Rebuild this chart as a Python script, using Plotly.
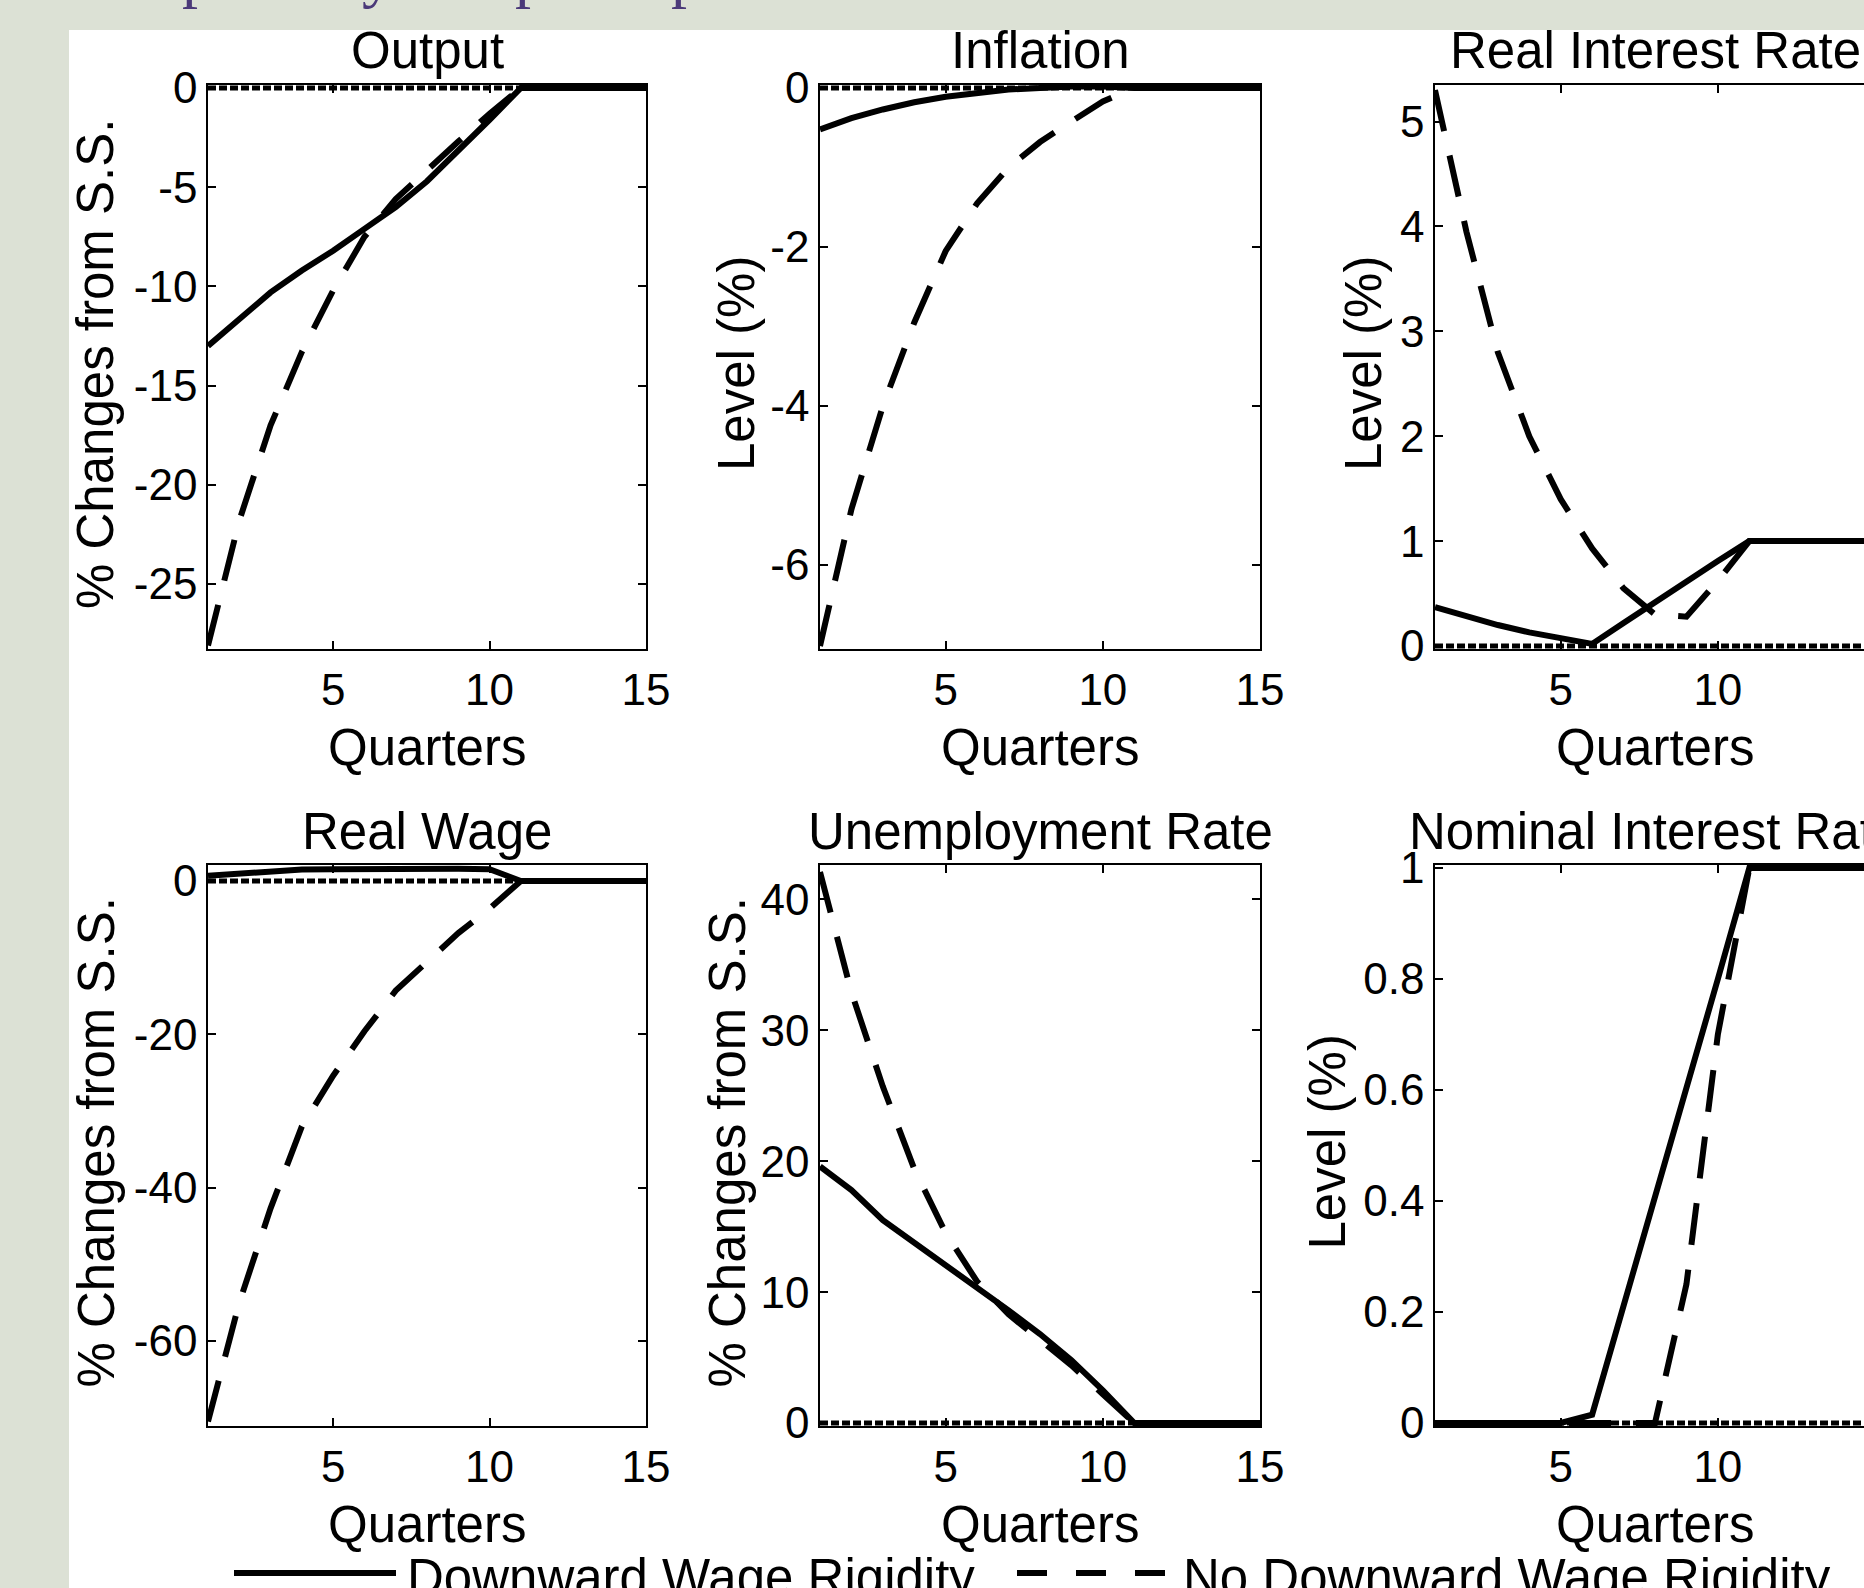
import plotly.graph_objects as go

# ---------------- data ----------------
quarters = list(range(1, 16))

output_dwr = [-13.0, -11.6, -10.3, -9.2, -8.2, -7.1, -6.0, -4.7, -3.2, -1.6, 0, 0, 0, 0, 0]
output_nodwr = [-28.1, -21.8, -17.0, -13.3, -10.2, -7.5, -5.6, -4.1, -2.7, -1.3, 0, 0, 0, 0, 0]

inflation_dwr = [-0.52, -0.38, -0.27, -0.18, -0.11, -0.06, -0.02, 0.0, 0.02, 0.02, 0, 0, 0, 0, 0]
inflation_nodwr = [-7.02, -5.3, -4.0, -2.95, -2.05, -1.45, -1.0, -0.68, -0.42, -0.17, 0, 0, 0, 0, 0]

real_rate_dwr = [0.37, 0.28, 0.2, 0.13, 0.07, 0.02, 0.22, 0.42, 0.61, 0.81, 1.0, 1.0, 1.0, 1.0, 1.0]
real_rate_nodwr = [5.3, 3.95, 2.8, 2.0, 1.4, 0.93, 0.55, 0.3, 0.28, 0.62, 1.0, 1.0, 1.0, 1.0, 1.0]

real_wage_dwr = [0.7, 1.0, 1.3, 1.5, 1.55, 1.6, 1.6, 1.6, 1.6, 1.55, 0, 0, 0, 0, 0]
real_wage_nodwr = [-70.5, -55.0, -42.7, -32.0, -25.4, -19.6, -14.3, -10.5, -6.8, -3.6, 0, 0, 0, 0, 0]

unemp_dwr = [19.6, 17.8, 15.5, 13.8, 12.1, 10.3, 8.6, 6.8, 4.8, 2.5, 0, 0, 0, 0, 0]
unemp_nodwr = [42.1, 32.9, 25.7, 19.4, 14.5, 10.8, 8.3, 6.4, 4.4, 2.2, 0, 0, 0, 0, 0]

nominal_dwr = [0, 0, 0, 0, 0, 0.015, 0.21, 0.41, 0.6, 0.8, 1.0, 1.0, 1.0, 1.0, 1.0]
nominal_nodwr = [0, 0, 0, 0, 0, 0, 0, 0.0, 0.25, 0.7, 1.0, 1.0, 1.0, 1.0, 1.0]

steady_state = [0] * 15

titles = ["Output", "Inflation", "Real Interest Rate",
          "Real Wage", "Unemployment Rate", "Nominal Interest Rate"]
ylabels = ["% Changes from S.S.", "Level (%)", "Level (%)",
           "% Changes from S.S.", "% Changes from S.S.", "Level (%)"]
xlabel = "Quarters"
legend_names = ["Downward Wage Rigidity", "No Downward Wage Rigidity"]

dwr_series = [output_dwr, inflation_dwr, real_rate_dwr, real_wage_dwr, unemp_dwr, nominal_dwr]
nodwr_series = [output_nodwr, inflation_nodwr, real_rate_nodwr, real_wage_nodwr, unemp_nodwr, nominal_nodwr]

y_ranges = [[-28.12, 0], [-7.02, 0], [0, 5.32], [-70.7, 1.7], [0, 42.4], [0, 1]]
y_ticks = [[-25, -20, -15, -10, -5, 0], [-6, -4, -2, 0], [0, 1, 2, 3, 4, 5],
           [-60, -40, -20, 0], [0, 10, 20, 30, 40], [0, 0.2, 0.4, 0.6, 0.8, 1]]
y_ticktext = [["-25", "-20", "-15", "-10", "-5", "0"], ["-6", "-4", "-2", "0"],
              ["0", "1", "2", "3", "4", "5"], ["-60", "-40", "-20", "0"],
              ["0", "10", "20", "30", "40"], ["0", "0.2", "0.4", "0.6", "0.8", "1"]]
x_ticks = [5, 10, 15]

# ---------------- layout geometry (pixels) ----------------
W, H = 1864, 1588
FONT = "Liberation Sans, Arial, sans-serif"
TICK_SIZE = 44
LABEL_SIZE = 51
PAD = 3  # px of breathing room so thick lines on the box edge are not clipped


def fx(p):
    return p / W


def fy(p):
    return 1 - p / H


col_px = [(208, 646), (820, 1260), (1435, 1875)]
row_px = [(88, 646), (868, 1423)]
ylabel_x = [96, 737, 1364, 96, 727, 1327]

fig = go.Figure()
layout_axes = {}
annotations = []

for i in range(6):
    r, c = divmod(i, 3)
    n = i + 1
    xname = "x" if n == 1 else f"x{n}"
    yname = "y" if n == 1 else f"y{n}"
    x0, x1 = col_px[c]
    xend = min(x1, W)
    xmax = 1 + 14 * (xend - x0) / (x1 - x0)
    top, bottom = row_px[r]
    ymin, ymax = y_ranges[i]
    upp = (ymax - ymin) / (bottom - top)
    yrange = [ymin - PAD * upp, ymax + PAD * upp]

    fig.add_trace(go.Scatter(x=quarters, y=steady_state, mode="lines",
                             line=dict(color="black", width=5, dash="8px,3px"),
                             xaxis=xname, yaxis=yname, showlegend=False, hoverinfo="skip"))
    fig.add_trace(go.Scatter(x=quarters, y=nodwr_series[i], mode="lines",
                             name=legend_names[1],
                             line=dict(color="black", width=6, dash="42px,25px"),
                             xaxis=xname, yaxis=yname, showlegend=False))
    fig.add_trace(go.Scatter(x=quarters, y=dwr_series[i], mode="lines",
                             name=legend_names[0],
                             line=dict(color="black", width=6),
                             xaxis=xname, yaxis=yname, showlegend=False))

    common = dict(showline=True, linecolor="black", linewidth=1.5,
                  ticks="inside", ticklen=8, tickwidth=1.5, tickcolor="black",
                  showgrid=False, zeroline=False, automargin=False,
                  tickfont=dict(family=FONT, size=TICK_SIZE, color="black"))
    layout_axes["xaxis" if n == 1 else f"xaxis{n}"] = dict(
        domain=[fx(x0), fx(xend)], anchor=yname, range=[1, xmax],
        tickmode="array", tickvals=x_ticks, ticktext=[str(v) for v in x_ticks],
        mirror="ticks", ticklabelstandoff=1, **common)
    layout_axes["yaxis" if n == 1 else f"yaxis{n}"] = dict(
        domain=[fy(bottom + PAD), fy(top - PAD)], anchor=xname, range=yrange,
        tickmode="array", tickvals=y_ticks[i], ticktext=y_ticktext[i],
        mirror=("ticks" if c < 2 else False),
        ticklabelstandoff=0, **common)

    cx = (x0 + x1) / 2
    annotations.append(dict(text=titles[i], x=fx(cx), y=fy(top - 37), xref="paper", yref="paper",
                            xanchor="center", yanchor="middle", showarrow=False,
                            font=dict(family=FONT, size=LABEL_SIZE, color="black")))
    annotations.append(dict(text=xlabel, x=fx(cx), y=fy(bottom + 101), xref="paper", yref="paper",
                            xanchor="center", yanchor="middle", showarrow=False,
                            font=dict(family=FONT, size=LABEL_SIZE, color="black")))
    annotations.append(dict(text=ylabels[i], x=fx(ylabel_x[i]), y=fy((top + bottom) / 2 - 3),
                            xref="paper", yref="paper", textangle=-90,
                            xanchor="center", yanchor="middle", showarrow=False,
                            font=dict(family=FONT, size=LABEL_SIZE, color="black")))

# legend (drawn manually to match the long MATLAB line samples)
annotations.append(dict(text=legend_names[0], x=fx(405), y=fy(1577), xref="paper", yref="paper",
                        xanchor="left", yanchor="middle", showarrow=False,
                        font=dict(family=FONT, size=LABEL_SIZE, color="black")))
annotations.append(dict(text=legend_names[1], x=fx(1181), y=fy(1577), xref="paper", yref="paper",
                        xanchor="left", yanchor="middle", showarrow=False,
                        font=dict(family=FONT, size=LABEL_SIZE, color="black")))

# cut-off slide title (only descenders visible)
title_glyphs = [("p", 198), ("y", 378), ("p", 531), ("p", 687)]
for g, gx in title_glyphs:
    annotations.append(dict(text=g, x=fx(gx), y=1, xref="paper", yref="paper",
                            xanchor="center", yanchor="bottom", yshift=-11, showarrow=False,
                            font=dict(family="Liberation Serif, serif", size=64, color="#4b3979")))

shapes = [
    dict(type="rect", xref="paper", yref="paper", x0=fx(69), x1=1, y0=0, y1=fy(30),
         fillcolor="white", line=dict(width=0), layer="below"),
    dict(type="line", xref="paper", yref="paper", x0=fx(234), x1=fx(396), y0=fy(1573), y1=fy(1573),
         line=dict(color="black", width=6)),
    dict(type="line", xref="paper", yref="paper", x0=fx(1017), x1=fx(1166), y0=fy(1573), y1=fy(1573),
         line=dict(color="black", width=6, dash="30px,29px")),
]

fig.update_layout(
    width=W, height=H,
    margin=dict(l=0, r=0, t=0, b=0, autoexpand=False),
    paper_bgcolor="#dce1d5",
    plot_bgcolor="white",
    showlegend=False,
    annotations=annotations,
    shapes=shapes,
    **layout_axes,
)

fig.write_html("out.html", config={"displayModeBar": False},
               post_script="document.body.style.margin='0';document.body.style.overflow='hidden';")
